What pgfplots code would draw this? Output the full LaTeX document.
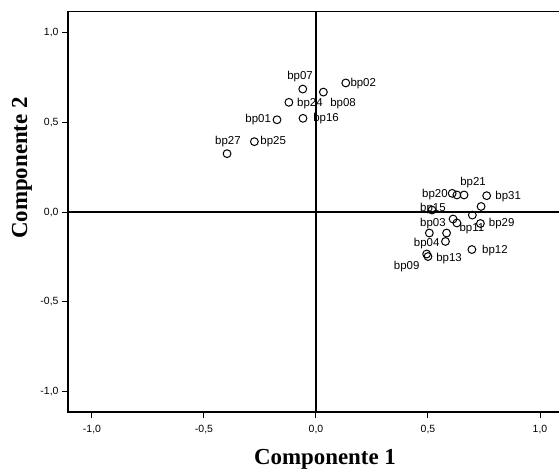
\documentclass[border=0pt]{standalone}
\usepackage{fontspec}
\setmainfont{Liberation Sans}
\newfontfamily\serifb{Liberation Serif}
\usepackage{pgfplots}
\pgfplotsset{compat=1.18}
\begin{document}
\begin{tikzpicture}
\begin{axis}[
  scale only axis, width=500bp, height=400.5bp,
  xmin=-1.107, xmax=1.125, ymin=-1.114, ymax=1.117,
  axis line style={line width=1.2bp},
  xtick={-1,-0.5,0,0.5,1}, ytick={-1,-0.5,0,0.5,1},
  tick pos=left, tick align=outside, major tick length=6bp,
  tick style={line width=1bp, black},
  /pgf/number format/use comma, /pgf/number format/fixed,
  /pgf/number format/fixed zerofill, /pgf/number format/precision=1,
  /pgf/number format/assume math mode=true,
  ticklabel style={font=\fontsize{10.5}{12}\selectfont},
  xticklabel style={yshift=-4bp},
  clip=false,
]
\coordinate (O) at (rel axis cs:0,0);
\draw[line width=1.2bp] (axis cs:0,-1.114) -- (axis cs:0,1.117);
\draw[line width=1.2bp] (axis cs:-1.107,0) -- (axis cs:1.125,0);
\addplot[only marks, mark=o, mark size=3.9bp, mark options={line width=1bp, black, fill=white}] coordinates {
(-0.059,0.685) (0.033,0.668) (0.133,0.719) (-0.121,0.611) (-0.174,0.514)
(-0.058,0.522) (-0.275,0.392) (-0.397,0.325)
(0.608,0.104) (0.629,0.095) (0.661,0.095) (0.762,0.091) (0.737,0.031)
(0.518,0.011) (0.698,-0.017) (0.612,-0.039) (0.629,-0.061) (0.734,-0.064)
(0.506,-0.117) (0.583,-0.117) (0.578,-0.164) (0.494,-0.234) (0.500,-0.248)
(0.696,-0.209)
};
\begin{scope}[every node/.style={font=\fontsize{11.5}{13}\selectfont, inner sep=0pt}]
\node at (axis cs:-0.071,0.752) {bp07};
\node at (axis cs:0.121,0.607) {bp08};
\node at (axis cs:0.211,0.713) {bp02};
\node at (axis cs:-0.027,0.606) {bp24};
\node at (axis cs:-0.258,0.513) {bp01};
\node at (axis cs:0.045,0.522) {bp16};
\node at (axis cs:-0.191,0.392) {bp25};
\node at (axis cs:-0.393,0.392) {bp27};
\node at (axis cs:0.701,0.167) {bp21};
\node at (axis cs:0.531,0.095) {bp20};
\node at (axis cs:0.858,0.085) {bp31};
\node at (axis cs:0.522,0.017) {bp15};
\node at (axis cs:0.522,-0.064) {bp03};
\node at (axis cs:0.696,-0.092) {bp11};
\node at (axis cs:0.829,-0.063) {bp29};
\node at (axis cs:0.494,-0.178) {bp04};
\node at (axis cs:0.594,-0.258) {bp13};
\node at (axis cs:0.405,-0.306) {bp09};
\node at (axis cs:0.799,-0.212) {bp12};
\end{scope}
\end{axis}
\node[font=\serifb\bfseries\fontsize{23}{26}\selectfont, rotate=90] at ([shift={(-46bp,244bp)}]O) {Componente 2};
\node[font=\serifb\bfseries\fontsize{23}{26}\selectfont] at ([shift={(257bp,-47bp)}]O) {Componente 1};
\pgfresetboundingbox
\path ([shift={(-68bp,-57bp)}]O) rectangle ++(559bp,469bp);
\end{tikzpicture}
\end{document}
